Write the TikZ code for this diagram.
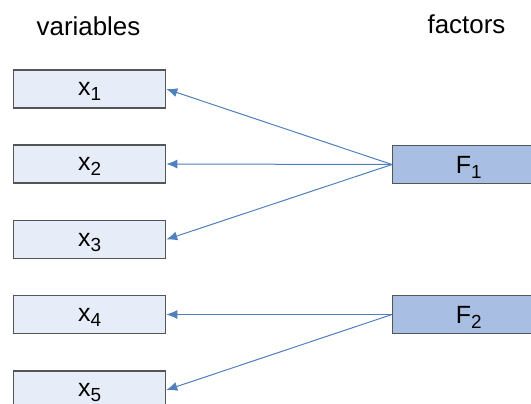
\documentclass[tikz,border=0pt]{standalone}
\usepackage{fontspec}
\setmainfont{Liberation Sans}
\usetikzlibrary{arrows.meta}
\definecolor{varfill}{RGB}{231,237,248}
\definecolor{facfill}{RGB}{168,190,226}
\definecolor{boxline}{RGB}{85,85,85}
\definecolor{arrowblue}{RGB}{79,129,189}
\tikzset{
  varbox/.style={draw=boxline, line width=1.3bp, fill=varfill, minimum width=152bp, minimum height=38bp, inner sep=0pt, font=\fontsize{25}{28}\selectfont, anchor=west},
  facbox/.style={draw=boxline, line width=1.3bp, fill=facfill, minimum width=152bp, minimum height=38bp, inner sep=0pt, font=\fontsize{25}{28}\selectfont, anchor=west},
  heading/.style={font=\fontsize{26}{29}\selectfont, inner sep=0pt, anchor=base},
  link/.style={draw=arrowblue, line width=1bp, -{Latex[length=11bp,width=9bp]}}
}
\newcommand{\sbx}[2]{#1\smash{\raisebox{-5bp}{\fontsize{19}{20}\selectfont #2}}}
\begin{document}
\begin{tikzpicture}[x=1bp,y=-1bp]
\useasboundingbox (0,0) rectangle (531,403);
\clip (0,0) rectangle (531,403);
\fill[white] (0,0) rectangle (531,403);
\node[heading] (hv) at (88.5,35) {variables};
\node[heading] (hf) at (466.5,33) {factors};
\node[varbox] (x1) at (13,89) {\sbx{x}{1}};
\node[varbox] (x2) at (13,164) {\sbx{x}{2}};
\node[varbox] (x3) at (13,239.5) {\sbx{x}{3}};
\node[varbox] (x4) at (13,314.5) {\sbx{x}{4}};
\node[varbox] (x5) at (13,390) {\sbx{x}{5}};
\node[facbox] (f1) at (392,164.5) {\sbx{F}{1}};
\node[facbox] (f2) at (392,314.5) {\sbx{F}{2}};
\draw[link] (f1.west) -- (x1.east);
\draw[link] (f1.west) -- (x2.east);
\draw[link] (f1.west) -- (x3.east);
\draw[link] (f2.west) -- (x4.east);
\draw[link] (f2.west) -- (x5.east);
\end{tikzpicture}
\end{document}
